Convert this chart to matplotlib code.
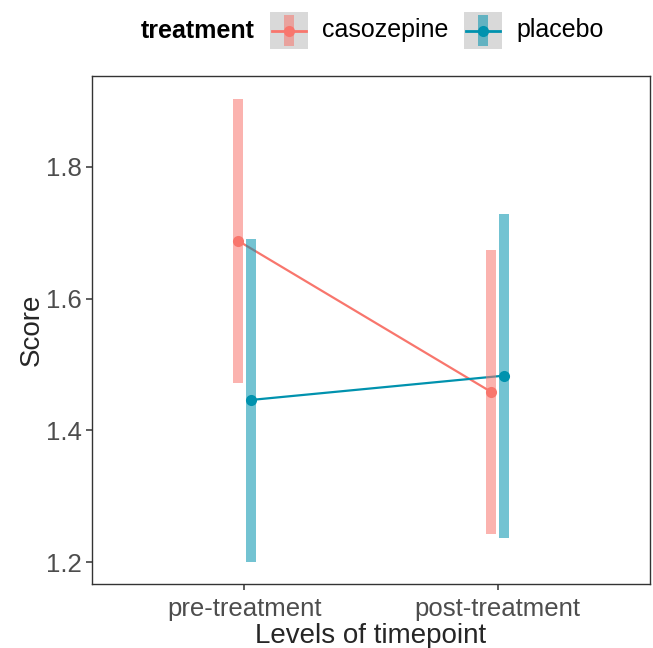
import matplotlib
matplotlib.use("Agg")
import matplotlib.pyplot as plt
from matplotlib.patches import Rectangle
from matplotlib.lines import Line2D

plt.rcParams['font.family'] = ['Liberation Sans', 'DejaVu Sans']

timepoints = ["pre-treatment", "post-treatment"]
treatments = ["casozepine", "placebo"]
means = {"casozepine": [1.688, 1.458], "placebo": [1.446, 1.483]}
ci_low = {"casozepine": [1.472, 1.243], "placebo": [1.200, 1.237]}
ci_high = {"casozepine": [1.903, 1.674], "placebo": [1.691, 1.729]}
line_colors = {"casozepine": "#F8766D", "placebo": "#0092AE"}
dodge = {"casozepine": -0.025, "placebo": 0.025}

W, H = 653, 648
fig = plt.figure(figsize=(W / 100, H / 100), dpi=100)
ax = fig.add_axes([92 / W, (H - 584) / H, (650 - 92) / W, (584 - 76) / H])

x0 = list(range(1, len(timepoints) + 1))
for t in treatments:
    xs = [x + dodge[t] for x in x0]
    ax.plot(xs, means[t], color=line_colors[t], lw=1.6, zorder=2)
for t in treatments:
    xs = [x + dodge[t] for x in x0]
    ax.vlines(xs, ci_low[t], ci_high[t], color=line_colors[t], alpha=0.55,
              lw=7.2, zorder=3)
for t in treatments:
    xs = [x + dodge[t] for x in x0]
    ax.plot(xs, means[t], 'o', color=line_colors[t], ms=8, zorder=4,
            markeredgewidth=0)

ax.set_xlim(0.4, 2.6)
ax.set_ylim(1.1666, 1.938)
ax.set_xticks(x0)
ax.set_xticklabels(timepoints)
ax.set_yticks([1.2, 1.4, 1.6, 1.8])
ax.set_yticklabels(["1.2", "1.4", "1.6", "1.8"])
ax.tick_params(axis='both', labelsize=18.5, colors='#333333', labelcolor='#4D4D4D',
               length=4.5, width=1.1, pad=3)
ax.tick_params(axis='x', pad=5)
for s in ax.spines.values():
    s.set_color('#333333')
    s.set_linewidth(1.0)
ax.set_xlabel("Levels of timepoint", fontsize=20, color='#262626', labelpad=1)
ax.set_ylabel("Score", fontsize=20, color='#262626', labelpad=1)

# legend (manual, top)
yc = 30.5
fig.text(141 / W, 1 - yc / H, "treatment", fontsize=18, fontweight='bold',
         va='center', ha='left', color='black')
keys = [(270, 322, "casozepine"), (464, 516, "placebo")]
for (kx, tx, t) in keys:
    kw, kh = 38, 37
    kax = fig.add_axes([kx / W, 1 - (yc + kh / 2) / H, kw / W, kh / H])
    kax.set_xlim(0, 1)
    kax.set_ylim(0, 1)
    kax.axis('off')
    kax.add_patch(Rectangle((0, 0), 1, 1, color='#D9D9D9', zorder=0))
    kax.add_patch(Rectangle((0.38, 0.08), 0.24, 0.84, color=line_colors[t],
                            alpha=0.55, lw=0, zorder=1))
    kax.add_line(Line2D([0.06, 0.94], [0.5, 0.5], color=line_colors[t], lw=2, zorder=2))
    kax.plot([0.5], [0.5], 'o', color=line_colors[t], ms=8, markeredgewidth=0, zorder=3)
    fig.text(tx / W, 1 - yc / H, t, fontsize=18, va='center', ha='left', color='black')

fig.savefig("out.png", dpi=100)
